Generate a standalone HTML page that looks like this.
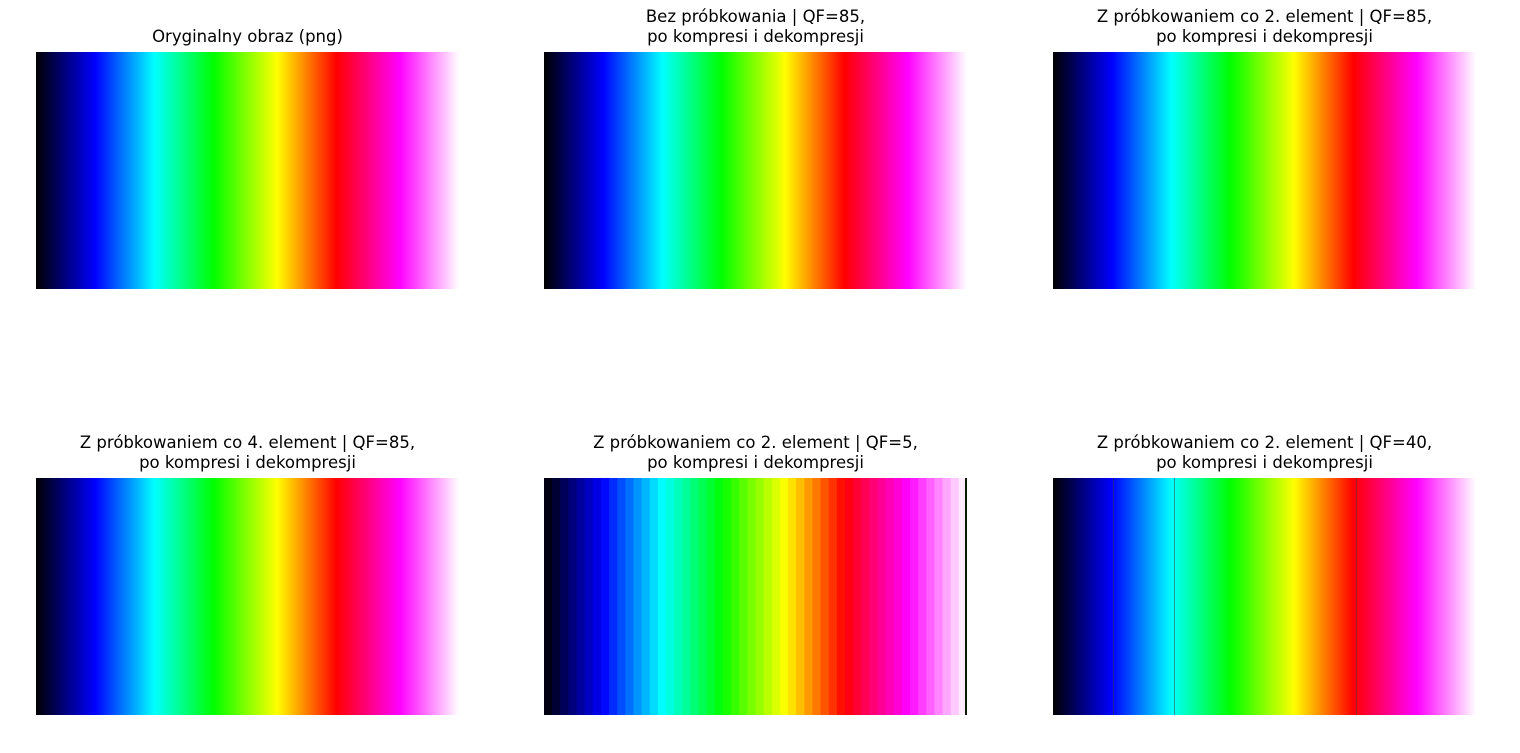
<!DOCTYPE html>
<html><head><meta charset="utf-8"><style>
body{margin:0;width:1520px;height:753px;background:#fff;position:relative;overflow:hidden;font-family:"DejaVu Sans","Liberation Sans",sans-serif}
.t{position:absolute;width:600px;text-align:center;font-size:16.5px;line-height:20px;color:#000}
svg{position:absolute}
</style></head><body>
<div id="root"></div>
<script>
const stopPos=[0,0.14,0.28,0.42,0.57,0.71,0.86,1];
const stopCol=[[0,0,0],[0,0,255],[0,255,255],[0,255,0],[255,255,0],[255,0,0],[255,0,255],[255,255,255]];
const titles=["Oryginalny obraz (png)","Bez próbkowania | QF=85,<br>po kompresi i dekompresji","Z próbkowaniem co 2. element | QF=85,<br>po kompresi i dekompresji","Z próbkowaniem co 4. element | QF=85,<br>po kompresi i dekompresji","Z próbkowaniem co 2. element | QF=5,<br>po kompresi i dekompresji","Z próbkowaniem co 2. element | QF=40,<br>po kompresi i dekompresji"];
const bands=[0,0,0,0,52,0];
const artifactFrac=[0.142,0.286,0.716];
const panelX=[36,544,1053],panelY=[52,478],W=423,H=237;
function col(t){for(let i=1;i<stopPos.length;i++){if(t<=stopPos[i]){const f=(t-stopPos[i-1])/(stopPos[i]-stopPos[i-1]);const a=stopCol[i-1],b=stopCol[i];return 'rgb('+a.map((v,k)=>Math.round(v+(b[k]-v)*f)).join(',')+')';}}return 'rgb(255,255,255)';}
const root=document.getElementById('root');
const ns='http://www.w3.org/2000/svg';
titles.forEach((tt,i)=>{
 const x=panelX[i%3],y=panelY[Math.floor(i/3)];
 const d=document.createElement('div');d.className='t';
 
 
 d.innerHTML=tt;const lines=tt.includes('<br>')?2:1;
 d.style.left=(x+W/2-300)+'px';d.style.top=(y-5-lines*20)+'px';root.appendChild(d);
 const s=document.createElementNS(ns,'svg');s.setAttribute('width',W);s.setAttribute('height',H);
 s.style.left=x+'px';s.style.top=y+'px';
 
 
 const n=bands[i]||W;
 for(let k=0;k<n;k++){const r=document.createElementNS(ns,'rect');
  r.setAttribute('x',k*W/n);r.setAttribute('y',0);r.setAttribute('width',W/n+0.6);r.setAttribute('height',H);
  r.setAttribute('fill',col((k+0.5)/n));s.appendChild(r);}
 if(i===4){const l=document.createElementNS(ns,'rect');l.setAttribute('x',W-2);l.setAttribute('width',2);l.setAttribute('height',H);l.setAttribute('fill','#0a1a00');s.appendChild(l);}
 if(i===5){artifactFrac.forEach(f=>{const l=document.createElementNS(ns,'rect');l.setAttribute('x',f*W);l.setAttribute('width',1);l.setAttribute('height',H);l.setAttribute('fill','rgba(60,60,60,0.5)');s.appendChild(l);});}
 root.appendChild(s);
});
</script>
</body></html>
